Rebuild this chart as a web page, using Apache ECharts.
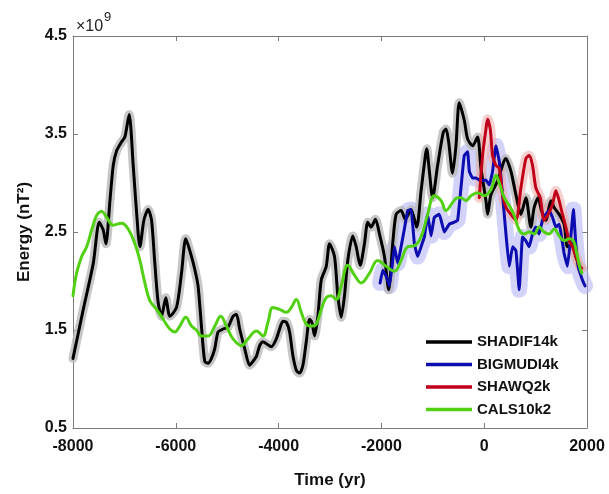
<!DOCTYPE html>
<html><head><meta charset="utf-8">
<script src="https://cdn.jsdelivr.net/npm/echarts@6/dist/echarts.min.js"></script>
<style>html,body{margin:0;padding:0;background:#fff}#c{width:609px;height:494px}</style>
</head><body><div id="c"></div>
<script>
// ---- data (units of 1e9 nT^2) ----
const shadifYears = [-8000,-7800,-7606,-7489,-7412,-7359,-7281,-7217,-7151,-7054,-6990,-6907,-6829,-6732,-6699,-6621,-6538,-6472,-6408,-6343,-6277,-6194,-6116,-5986,-5889,-5806,-5695,-5631,-5567,-5501,-5437,-5372,-5306,-5242,-5178,-5081,-4984,-4887,-4821,-4757,-4660,-4563,-4498,-4432,-4368,-4304,-4238,-4141,-4044,-3980,-3916,-3850,-3786,-3722,-3656,-3592,-3527,-3462,-3397,-3353,-3300,-3236,-3170,-3073,-3009,-2912,-2848,-2782,-2718,-2654,-2557,-2491,-2413,-2330,-2265,-2200,-2116,-2038,-1941,-1858,-1780,-1714,-1617,-1534,-1423,-1314,-1228,-1145,-1119,-1067,-1003,-906,-795,-743,-692,-615,-549,-485,-388,-323,-226,-129,-63,34,66,131,260,423,520,617,714,811,908,972,1050,1114,1200,1297,1361,1458,1555,1620,1717,1782,1879];
const shadifValues = [1.21,1.71,2.18,2.60,2.52,2.38,2.82,3.18,3.33,3.42,3.47,3.70,3.18,2.48,2.35,2.62,2.73,2.62,2.18,1.78,1.64,1.83,1.64,1.73,2.08,2.43,2.25,2.12,1.95,1.54,1.18,1.16,1.21,1.31,1.48,1.51,1.53,1.64,1.66,1.51,1.31,1.14,1.18,1.23,1.34,1.38,1.36,1.33,1.41,1.51,1.59,1.58,1.48,1.24,1.09,1.06,1.14,1.38,1.61,1.58,1.44,1.64,2.01,2.15,2.38,2.25,1.85,1.63,1.85,2.21,2.46,2.35,2.16,2.38,2.60,2.55,2.63,2.48,2.25,1.91,2.38,2.68,2.72,2.63,2.73,2.55,2.92,3.28,3.35,3.12,2.85,3.18,3.52,3.55,3.42,3.10,3.38,3.82,3.64,3.45,3.38,3.47,3.15,2.82,2.68,2.88,3.02,3.25,3.12,2.88,2.68,2.85,2.55,2.75,2.85,2.72,2.62,2.82,2.75,2.68,2.58,2.35,2.38,2.25,2.13];

const bigmudiYears = [-2025,-1974,-1908,-1844,-1792,-1747,-1682,-1617,-1553,-1488,-1423,-1358,-1294,-1228,-1164,-1100,-1034,-970,-873,-776,-679,-582,-517,-452,-388,-323,-290,-226,-160,-63,34,98,163,228,293,357,423,487,552,617,681,746,811,875,940,1005,1069,1134,1200,1263,1329,1394,1458,1555,1620,1685,1736,1782,1827,1911,1962];
const bigmudiValues = [1.98,2.11,2.05,1.95,2.15,2.35,2.18,2.35,2.53,2.72,2.73,2.38,2.25,2.35,2.45,2.68,2.46,2.65,2.68,2.50,2.58,2.60,2.62,2.95,3.28,3.32,3.12,3.05,3.05,3.02,3.03,2.98,3.12,3.38,3.22,2.88,2.48,2.15,2.35,2.31,1.91,2.45,2.41,2.35,2.48,2.55,2.48,2.62,2.68,2.72,2.65,2.55,2.58,2.28,2.15,2.45,2.73,2.38,2.15,2.01,1.95];

const shawqYears = [-96,-32,34,66,118,163,228,293,357,423,520,617,714,811,875,940,1005,1089,1166,1244,1329,1394,1458,1523,1588,1652,1717,1782,1846,1899];
const shawqValues = [2.85,3.28,3.55,3.65,3.55,3.28,3.18,3.15,2.88,2.75,2.68,2.62,2.95,3.25,3.28,3.18,2.95,2.85,2.62,2.68,2.78,2.92,2.82,2.68,2.55,2.41,2.35,2.25,2.16,2.13];

const calsYears = [-8000,-7930,-7831,-7734,-7637,-7540,-7443,-7346,-7217,-7054,-6926,-6796,-6699,-6602,-6505,-6375,-6246,-6116,-6019,-5922,-5806,-5695,-5600,-5501,-5372,-5242,-5126,-5015,-4887,-4724,-4596,-4432,-4304,-4207,-4110,-3980,-3850,-3753,-3656,-3559,-3462,-3365,-3268,-3170,-3073,-2976,-2879,-2782,-2654,-2524,-2394,-2232,-2071,-1908,-1747,-1617,-1488,-1358,-1228,-1100,-970,-840,-743,-615,-517,-452,-354,-257,-129,1,131,228,293,390,487,584,681,778,875,972,1069,1166,1263,1361,1458,1555,1652,1736,1801,1866,1899];
const calsValues = [1.85,2.08,2.25,2.35,2.52,2.67,2.71,2.65,2.57,2.59,2.53,2.38,2.21,1.98,1.80,1.71,1.61,1.51,1.48,1.54,1.63,1.54,1.50,1.44,1.44,1.54,1.64,1.54,1.41,1.34,1.41,1.49,1.44,1.58,1.73,1.71,1.68,1.73,1.81,1.68,1.56,1.54,1.56,1.71,1.83,1.85,1.81,1.95,2.16,2.06,1.98,2.08,2.21,2.15,2.10,2.21,2.35,2.36,2.45,2.68,2.87,2.82,2.72,2.80,2.85,2.85,2.82,2.87,2.90,2.87,2.93,3.08,3.00,2.85,2.77,2.67,2.52,2.48,2.50,2.48,2.55,2.50,2.48,2.53,2.46,2.41,2.43,2.41,2.28,2.13,2.08];

const seriesNames = ['SHADIF14k','BIGMUDI4k','SHAWQ2k','CALS10k2'];
const xTicks = [-8000,-6000,-4000,-2000,0,2000];
const yTicks = [0.5,1.5,2.5,3.5,4.5];

const zip = (xs, ys) => xs.map((x, i) => [x, ys[i]]);
const blackD = zip(shadifYears, shadifValues);
const blueD = zip(bigmudiYears, bigmudiValues);
const redD = zip(shawqYears, shawqValues);
const greenD = zip(calsYears, calsValues);

const FONT = 'Liberation Sans, Arial, sans-serif';
const axisCol = '#7a7a7a';

function line(name, data, color, width, z, smooth) {
  return { name, type: 'line', data, showSymbol: false, symbol: 'none', smooth: smooth,
    lineStyle: { color, width, join: 'round', cap: 'round' }, itemStyle: { color }, z, silent: true, animation: false };
}
const axLine = { show: true, onZero: false, lineStyle: { color: axisCol, width: 1 } };

const chart = echarts.init(document.getElementById('c'), null, { renderer: 'canvas' });
chart.setOption({
  animation: false,
  backgroundColor: '#fff',
  grid: { left: 73, right: 22, top: 36, bottom: 60 },
  xAxis: [{
    type: 'value', min: -8000, max: 2000, interval: 2000,
    name: 'Time (yr)', nameLocation: 'middle', nameGap: 44,
    nameTextStyle: { color: '#111', fontWeight: 'bold', fontSize: 17, fontFamily: FONT },
    axisLine: axLine,
    axisTick: { show: true, inside: true, length: 5, lineStyle: { color: axisCol } },
    axisLabel: { color: '#111', fontWeight: 'bold', fontSize: 16, fontFamily: FONT, margin: 11, customValues: xTicks,
      formatter: v => String(v) },
    splitLine: { show: false }
  }, {
    type: 'value', position: 'top', min: -8000, max: 2000, interval: 2000,
    axisLine: axLine,
    axisTick: { show: true, inside: true, length: 5, lineStyle: { color: axisCol } },
    axisLabel: { show: false }, splitLine: { show: false }
  }],
  yAxis: [{
    type: 'value', min: 0.5, max: 4.5,
    name: 'Energy (nT²)', nameLocation: 'middle', nameGap: 40, nameRotate: 90,
    nameTextStyle: { color: '#111', fontWeight: 'bold', fontSize: 17, fontFamily: FONT },
    axisLine: axLine,
    axisTick: { show: true, inside: true, length: 5, lineStyle: { color: axisCol }, customValues: yTicks },
    axisLabel: { color: '#111', fontWeight: 'bold', fontSize: 16, fontFamily: FONT, margin: 6, customValues: yTicks,
      formatter: v => v.toFixed(1) },
    splitLine: { show: false }
  }, {
    type: 'value', position: 'right', min: 0.5, max: 4.5,
    axisLine: axLine,
    axisTick: { show: true, inside: true, length: 5, lineStyle: { color: axisCol }, customValues: yTicks },
    axisLabel: { show: false }, splitLine: { show: false }
  }],
  legend: {
    data: seriesNames, orient: 'vertical', left: 426, top: 333, itemGap: 4.5,
    icon: 'rect', itemWidth: 46, itemHeight: 3.5,
    textStyle: { color: '#111', fontWeight: 'bold', fontSize: 15, fontFamily: FONT, lineHeight: 18, padding: [0,0,0,0] },
    itemStyle: { borderWidth: 0 }, padding: 0, selectedMode: false
  },
  graphic: [
    { type: 'text', left: 76, top: 19, style: { text: '×10', fill: '#222', font: '16px ' + FONT } },
    { type: 'text', left: 104, top: 11, style: { text: '9', fill: '#222', font: '13px ' + FONT } }
  ],
  series: [
    line('band_bigmudi', blueD, 'rgba(175,175,245,0.55)', 16, 1, 0.1),
    line('band_shadif', blackD, 'rgba(185,185,185,0.8)', 9, 2, 0.25),
    line('band_shawq', redD, 'rgba(240,175,175,0.6)', 10, 2, 0.25),
    line('SHADIF14k', blackD, '#000000', 3, 3, 0.25),
    line('BIGMUDI4k', blueD, '#0c0cb0', 3, 4, 0.1),
    line('SHAWQ2k', redD, '#c00018', 3, 5, 0.25),
    line('CALS10k2', greenD, '#52d013', 3, 6, 0.4)
  ]
});
</script>
</body></html>
